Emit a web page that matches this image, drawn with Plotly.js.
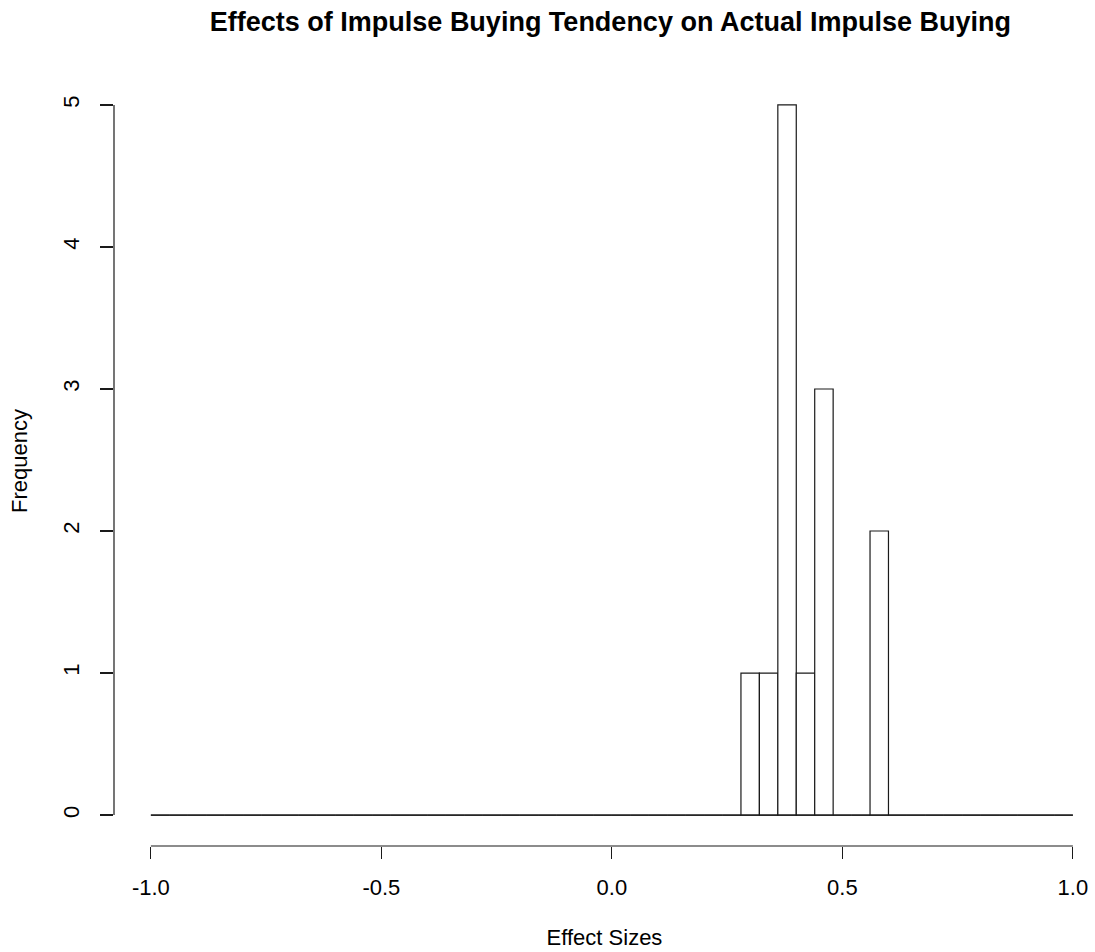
<!DOCTYPE html>
<html>
<head>
<meta charset="utf-8">
<script src="https://cdn.plot.ly/plotly-3.0.1.min.js"></script>
<style>
  html, body { margin: 0; padding: 0; background: #ffffff; }
  #chart { width: 1095px; height: 952px; }
</style>
</head>
<body>
<div id="chart"></div>
<script>
// Histogram breaks: -1 to 1 in steps of 0.04 (50 bins)
const breakStart = -1.0;
const breakEnd = 1.0;
const binWidth = 0.04;

// Bin counts, left to right
const counts = [
  0, 0, 0, 0, 0, 0, 0, 0, 0, 0,
  0, 0, 0, 0, 0, 0, 0, 0, 0, 0,
  0, 0, 0, 0, 0, 0, 0, 0, 0, 0,
  0, 0, 1, 1, 5, 1, 3, 0, 0, 2,
  0, 0, 0, 0, 0, 0, 0, 0, 0, 0
];

const xTickVals = [-1.0, -0.5, 0.0, 0.5, 1.0];
const xTickText = ["-1.0", "-0.5", "0.0", "0.5", "1.0"];
const yTickVals = [0, 1, 2, 3, 4, 5];
const yTickText = ["0", "1", "2", "3", "4", "5"];

const chartTitle = "Effects of Impulse Buying Tendency on Actual Impulse Buying";
const xTitle = "Effect Sizes";
const yTitle = "Frequency";

const mids = counts.map((_, i) => +(breakStart + binWidth * (i + 0.5)).toFixed(4));
const yMax = Math.max(...counts);

const ink = "#1a1a1a";
const font = "Liberation Sans, Arial, sans-serif";
const labelSize = 22;

const bars = {
  type: "bar",
  x: mids,
  y: counts,
  width: binWidth,
  marker: { color: "#ffffff", line: { color: ink, width: 1.2 } },
  hoverinfo: "x+y",
  showlegend: false
};

// zero-height bins collapse to a line along the baseline
const baseline = {
  type: "scatter",
  mode: "lines",
  x: [breakStart, breakEnd],
  y: [0, 0],
  line: { color: ink, width: 1.2 },
  hoverinfo: "skip",
  showlegend: false
};

const layout = {
  width: 1095,
  height: 952,
  margin: { l: 114, r: 0, t: 76, b: 106, pad: 0 },
  paper_bgcolor: "#ffffff",
  plot_bgcolor: "#ffffff",
  font: { family: font, color: "#000000", size: labelSize },
  bargap: 0,
  title: {
    text: "<b>" + chartTitle + "</b>",
    font: { family: font, size: 27, color: "#000000" },
    x: 0.506, xref: "paper", xanchor: "center",
    y: 0.977, yref: "container", yanchor: "middle"
  },
  xaxis: {
    range: [-1.08, 1.048],
    autorange: false,
    fixedrange: true,
    showgrid: false,
    zeroline: false,
    showline: false,
    ticks: "outside",
    ticklen: 12,
    tickwidth: 1.2,
    tickcolor: ink,
    tickvals: xTickVals,
    ticktext: xTickText,
    tickfont: { family: font, size: labelSize, color: "#000000" },
    ticklabelstandoff: 10,
    title: { text: xTitle, font: { family: font, size: labelSize, color: "#000000" }, standoff: 30 }
  },
  yaxis: {
    range: [-0.218, 5.204],
    autorange: false,
    fixedrange: true,
    showgrid: false,
    zeroline: false,
    showline: false,
    ticks: "outside",
    ticklen: 13,
    tickwidth: 1.2,
    tickcolor: ink,
    tickvals: yTickVals,
    ticktext: yTickText,
    tickangle: -90,
    tickfont: { family: font, size: labelSize, color: "#000000" },
    ticklabelstandoff: 12,
    title: { text: yTitle, font: { family: font, size: labelSize, color: "#000000" }, standoff: 25 }
  },
  shapes: [
    { type: "line", xref: "x", yref: "paper", x0: xTickVals[0], x1: xTickVals[xTickVals.length - 1], y0: 0, y1: 0,
      line: { color: ink, width: 1.2 } },
    { type: "line", xref: "paper", yref: "y", x0: 0, x1: 0, y0: 0, y1: yMax,
      line: { color: ink, width: 1.2 } }
  ]
};

Plotly.newPlot("chart", [bars, baseline], layout, { displayModeBar: false, staticPlot: true });
</script>
</body>
</html>
